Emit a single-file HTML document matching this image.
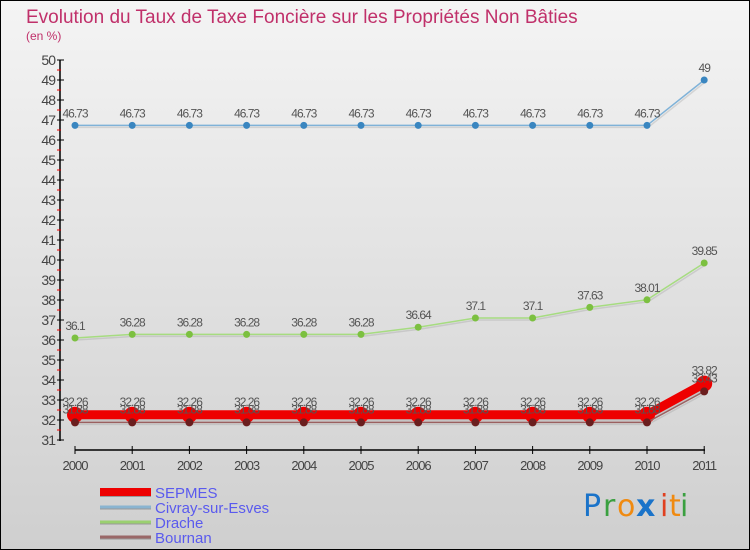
<!DOCTYPE html>
<html><head><meta charset="utf-8"><style>
body{margin:0;}
#wrap{width:750px;height:550px;position:relative;overflow:hidden;font-family:"Liberation Sans",sans-serif;}
</style></head><body>
<div id="wrap">
<svg id="svg" width="750" height="550" xmlns="http://www.w3.org/2000/svg">
<defs><linearGradient id="bg" x1="0" y1="0" x2="0" y2="1"><stop offset="0" stop-color="#f4f4f4"/><stop offset="1" stop-color="#cfcfcf"/></linearGradient></defs>
<rect x="0.5" y="0.5" width="749" height="549" fill="url(#bg)" stroke="#000"/>
<text x="26" y="23" font-size="19" fill="#c0306a">Evolution du Taux de Taxe Foncière sur les Propriétés Non Bâties</text>
<text x="26" y="40" font-size="12" fill="#c0306a">(en %)</text>
<g id="axes"></g><g id="series"></g><g id="legend"></g>
<g font-size="30" font-family="'DejaVu Sans',sans-serif">
<text x="583" y="516" fill="#1a73c9">P</text><text x="603" y="516" fill="#3aa040">r</text><text x="617" y="516" fill="#f08a10">o</text><text x="636" y="516" fill="#1a73c9" font-weight="bold">x</text><text x="660" y="516" fill="#e04020">i</text><text x="669" y="516" fill="#f08a10">t</text><text x="680" y="516" fill="#3aa040">i</text>
</g>
</svg>
</div>
<script>
const years=[2000,2001,2002,2003,2004,2005,2006,2007,2008,2009,2010,2011];
const sepmes=[32.26,32.26,32.26,32.26,32.26,32.26,32.26,32.26,32.26,32.26,32.26,33.82];
const civray=[46.73,46.73,46.73,46.73,46.73,46.73,46.73,46.73,46.73,46.73,46.73,49];
const drache=[36.1,36.28,36.28,36.28,36.28,36.28,36.64,37.1,37.1,37.63,38.01,39.85];
const bournan=[31.88,31.88,31.88,31.88,31.88,31.88,31.88,31.88,31.88,31.88,31.88,33.43];
const yTicks=[31,32,33,34,35,36,37,38,39,40,41,42,43,44,45,46,47,48,49,50];
const NS="http://www.w3.org/2000/svg";
function X(i){return 75+i*57.2;}
function Y(v){return 60+(50-v)*20;}
function mk(tag,attrs,parent,txt){const e=document.createElementNS(NS,tag);for(const k in attrs)e.setAttribute(k,attrs[k]);if(txt!==undefined)e.textContent=txt;parent.appendChild(e);return e;}
const ax=document.getElementById('axes');
let l=mk('line',{x1:60,y1:60,x2:60,y2:441,stroke:'#000','stroke-width':1.5},ax);


l=mk('line',{x1:75,y1:450,x2:705,y2:450,stroke:'#000','stroke-width':1.5},ax);


yTicks.forEach(v=>{
  mk('line',{x1:57,y1:Y(v),x2:64,y2:Y(v),stroke:'#000'},ax);
  if(v<50) mk('line',{x1:57,y1:Y(v)-10,x2:61,y2:Y(v)-10,stroke:'#e00'},ax);
  const t=mk('text',{x:55,y:Y(v)+5,'text-anchor':'end','font-size':14,fill:'#444','letter-spacing':'-1'},ax,String(v));
  
  
});
years.forEach((yr,i)=>{
  mk('line',{x1:X(i),y1:446,x2:X(i),y2:454,stroke:'#000'},ax);
  const t=mk('text',{x:X(i),y:470,'text-anchor':'middle','font-size':13,fill:'#444','letter-spacing':'-1'},ax,String(yr));
  
  
});
const sg=document.getElementById('series');
function series(vals,lineColor,ptColor,w,r,name,labelDy){
  const g=mk('g',{},sg);
  
  
  const pts=vals.map((v,i)=>X(i)+','+Y(v)).join(' ');
  mk('polyline',{points:pts,fill:'none',stroke:'#888','stroke-opacity':0.25,'stroke-width':w,transform:'translate(1,2)'},g);
  mk('polyline',{points:pts,fill:'none',stroke:lineColor,'stroke-width':w},g);
  vals.forEach((v,i)=>{
    const c=mk('circle',{cx:X(i),cy:Y(v),r:r,fill:ptColor},g);
    
    
    mk('text',{x:X(i),y:Y(v)+labelDy,'text-anchor':'middle','font-size':12,fill:'#555','letter-spacing':'-1'},g,String(v));
  });
}
series(civray,'#7fb2d8','#3a86c0',1.5,3.5,'civray',-8);
series(drache,'#a6dc80','#7cc040',1.5,3.5,'drache',-8);
series(sepmes,'#ee0000','#ee0000',9,8,'sepmes',-9);
series(bournan,'#9a6060','#6b1e1e',1.5,4,'bournan',-9);
const lg=document.getElementById('legend');
const items=[['SEPMES','#ee0000',8],['Civray-sur-Esves','#8ab4d0',3],['Drache','#9ad070',3],['Bournan','#9a6868',3]];
items.forEach((it,k)=>{
  const y=492+k*15;
  const g=mk('g',{},lg);
  
  
  mk('line',{x1:100,y1:y+1,x2:151,y2:y+1,stroke:'#999','stroke-width':it[2]},g);
  mk('line',{x1:100,y1:y,x2:151,y2:y,stroke:it[1],'stroke-width':it[2]},g);
  mk('text',{x:155,y:y+6,'font-size':15,fill:'#5a5aee'},g,it[0]);
});
</script>
</body></html>
